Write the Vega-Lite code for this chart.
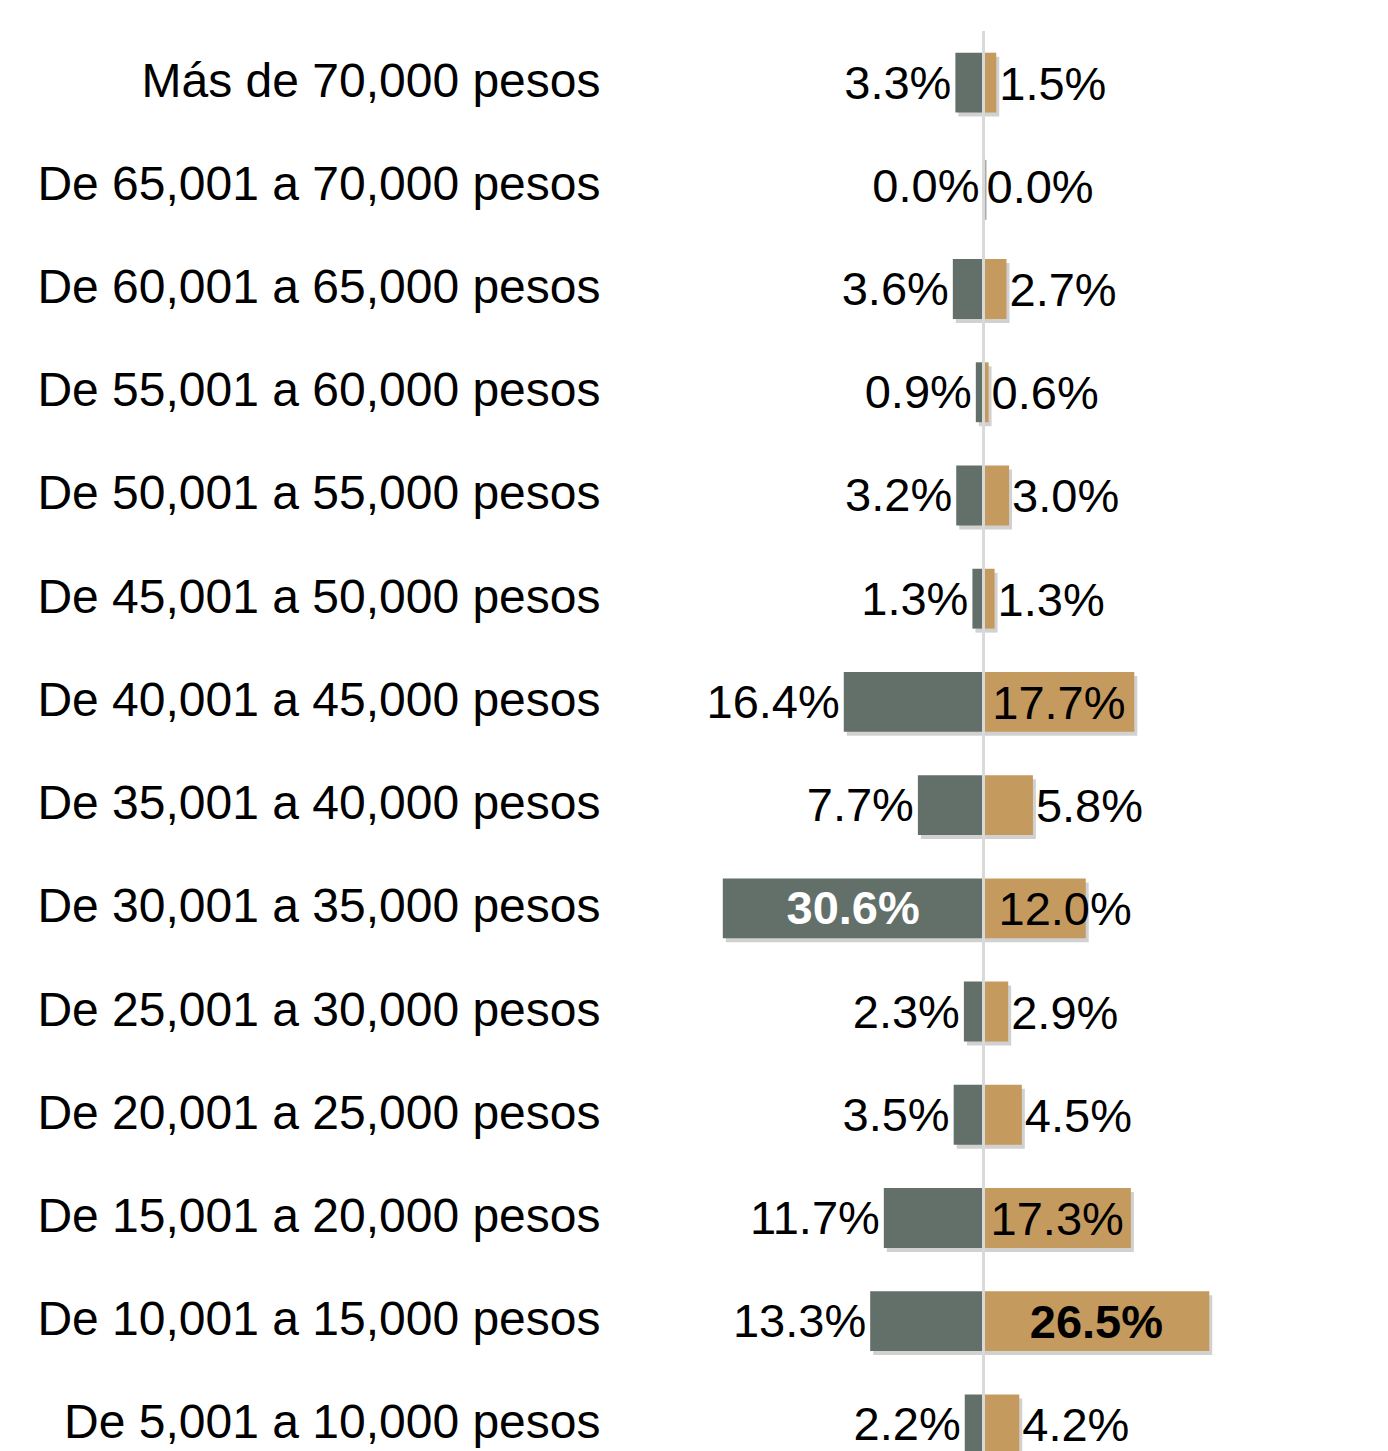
{
  "$schema": "https://vega.github.io/schema/vega-lite/v6.json",
  "autosize": "none",
  "width": 778,
  "height": 1445,
  "padding": {"left": 610, "top": 31, "right": 0, "bottom": 0},
  "background": "white",
  "config": {
    "view": {"stroke": null},
    "font": "Liberation Sans",
    "axisY": {"labelFontSize": 48, "labelColor": "#000000", "labelFont": "Liberation Sans", "ticks": false, "domain": false, "grid": false, "title": null, "labelPadding": 10, "labelLimit": 0}
  },
  "data": {"values": [
    {"cat": "Más de 70,000 pesos", "side": "L", "value": 0.033},
    {"cat": "De 65,001 a 70,000 pesos", "side": "L", "value": 0.0},
    {"cat": "De 60,001 a 65,000 pesos", "side": "L", "value": 0.036},
    {"cat": "De 55,001 a 60,000 pesos", "side": "L", "value": 0.009},
    {"cat": "De 50,001 a 55,000 pesos", "side": "L", "value": 0.032},
    {"cat": "De 45,001 a 50,000 pesos", "side": "L", "value": 0.013},
    {"cat": "De 40,001 a 45,000 pesos", "side": "L", "value": 0.164},
    {"cat": "De 35,001 a 40,000 pesos", "side": "L", "value": 0.077},
    {"cat": "De 30,001 a 35,000 pesos", "side": "L", "value": 0.306},
    {"cat": "De 25,001 a 30,000 pesos", "side": "L", "value": 0.023},
    {"cat": "De 20,001 a 25,000 pesos", "side": "L", "value": 0.035},
    {"cat": "De 15,001 a 20,000 pesos", "side": "L", "value": 0.117},
    {"cat": "De 10,001 a 15,000 pesos", "side": "L", "value": 0.133},
    {"cat": "De 5,001 a 10,000 pesos", "side": "L", "value": 0.022},
    {"cat": "Más de 70,000 pesos", "side": "R", "value": 0.015},
    {"cat": "De 65,001 a 70,000 pesos", "side": "R", "value": 0.0},
    {"cat": "De 60,001 a 65,000 pesos", "side": "R", "value": 0.027},
    {"cat": "De 55,001 a 60,000 pesos", "side": "R", "value": 0.006},
    {"cat": "De 50,001 a 55,000 pesos", "side": "R", "value": 0.03},
    {"cat": "De 45,001 a 50,000 pesos", "side": "R", "value": 0.013},
    {"cat": "De 40,001 a 45,000 pesos", "side": "R", "value": 0.177},
    {"cat": "De 35,001 a 40,000 pesos", "side": "R", "value": 0.058},
    {"cat": "De 30,001 a 35,000 pesos", "side": "R", "value": 0.12},
    {"cat": "De 25,001 a 30,000 pesos", "side": "R", "value": 0.029},
    {"cat": "De 20,001 a 25,000 pesos", "side": "R", "value": 0.045},
    {"cat": "De 15,001 a 20,000 pesos", "side": "R", "value": 0.173},
    {"cat": "De 10,001 a 15,000 pesos", "side": "R", "value": 0.265},
    {"cat": "De 5,001 a 10,000 pesos", "side": "R", "value": 0.042}
  ]},
  "encoding": {
    "y": {"field": "cat", "type": "nominal", "sort": null, "scale": {"paddingInner": 0.42, "paddingOuter": 0.21}}
  },
  "layer": [
    {
      "transform": [{"filter": "datum.side === 'L'"}],
      "mark": {"type": "bar", "color": "#000000", "opacity": 0.18, "xOffset": 3, "yOffset": 4},
      "encoding": {
        "x": {"field": "value", "type": "quantitative", "scale": {"domain": [-0.4748, 0.4384], "reverse": true, "nice": false, "zero": false}, "axis": null},
        "x2": {"datum": 0}
      }
    },
    {
      "transform": [{"filter": "datum.side === 'L'"}],
      "mark": {"type": "bar", "color": "#627069"},
      "encoding": {
        "x": {"field": "value", "type": "quantitative", "scale": {"domain": [-0.4748, 0.4384], "reverse": true, "nice": false, "zero": false}, "axis": null},
        "x2": {"datum": 0}
      }
    },
    {
      "transform": [{"filter": "datum.side === 'R'"}],
      "mark": {"type": "bar", "color": "#000000", "opacity": 0.18, "xOffset": 3, "yOffset": 4},
      "encoding": {
        "x": {"field": "value", "type": "quantitative", "scale": {"domain": [-0.4384, 0.4748], "nice": false, "zero": false}, "axis": null},
        "x2": {"datum": 0}
      }
    },
    {
      "transform": [{"filter": "datum.side === 'R'"}],
      "mark": {"type": "bar", "color": "#C49A5E"},
      "encoding": {
        "x": {"field": "value", "type": "quantitative", "scale": {"domain": [-0.4384, 0.4748], "nice": false, "zero": false}, "axis": null},
        "x2": {"datum": 0}
      }
    },
    {
      "mark": {"type": "rule", "color": "#d9d9d9", "strokeWidth": 2},
      "encoding": {
        "x": {"datum": 0, "type": "quantitative", "scale": {"domain": [-0.4384, 0.4748], "nice": false, "zero": false}, "axis": null},
        "y": null
      }
    },
    {
      "transform": [{"filter": "datum.side === 'L' && datum.value !== 0.306"}],
      "mark": {"type": "text", "align": "right", "baseline": "middle", "dx": -4, "dy": 2, "fontSize": 47, "color": "#000000"},
      "encoding": {
        "x": {"field": "value", "type": "quantitative", "scale": {"domain": [-0.4748, 0.4384], "reverse": true, "nice": false, "zero": false}, "axis": null},
        "text": {"field": "value", "type": "quantitative", "format": ".1%"}
      }
    },
    {
      "transform": [{"filter": "datum.side === 'L' && datum.value === 0.306"}, {"calculate": "datum.value / 2", "as": "mid"}],
      "mark": {"type": "text", "align": "center", "baseline": "middle", "dy": 2, "fontSize": 47, "fontWeight": "bold", "color": "#ffffff"},
      "encoding": {
        "x": {"field": "mid", "type": "quantitative", "scale": {"domain": [-0.4748, 0.4384], "reverse": true, "nice": false, "zero": false}, "axis": null},
        "text": {"field": "value", "type": "quantitative", "format": ".1%"}
      }
    },
    {
      "transform": [{"filter": "datum.side === 'R' && datum.value !== 0.12 && datum.value !== 0.177 && datum.value !== 0.173 && datum.value !== 0.265"}],
      "mark": {"type": "text", "align": "left", "baseline": "middle", "dx": 3, "dy": 3, "fontSize": 47, "color": "#000000"},
      "encoding": {
        "x": {"field": "value", "type": "quantitative", "scale": {"domain": [-0.4384, 0.4748], "nice": false, "zero": false}, "axis": null},
        "text": {"field": "value", "type": "quantitative", "format": ".1%"}
      }
    },
    {
      "transform": [{"filter": "datum.side === 'R' && datum.value === 0.12"}],
      "mark": {"type": "text", "align": "left", "baseline": "middle", "dx": 15, "dy": 3, "fontSize": 47, "color": "#000000"},
      "encoding": {
        "x": {"datum": 0, "type": "quantitative", "scale": {"domain": [-0.4384, 0.4748], "nice": false, "zero": false}, "axis": null},
        "text": {"field": "value", "type": "quantitative", "format": ".1%"}
      }
    },
    {
      "transform": [{"filter": "datum.side === 'R' && (datum.value === 0.177 || datum.value === 0.173)"}, {"calculate": "datum.value / 2", "as": "mid"}],
      "mark": {"type": "text", "align": "center", "baseline": "middle", "dy": 3, "fontSize": 47, "color": "#000000"},
      "encoding": {
        "x": {"field": "mid", "type": "quantitative", "scale": {"domain": [-0.4384, 0.4748], "nice": false, "zero": false}, "axis": null},
        "text": {"field": "value", "type": "quantitative", "format": ".1%"}
      }
    },
    {
      "transform": [{"filter": "datum.side === 'R' && datum.value === 0.265"}, {"calculate": "datum.value / 2", "as": "mid"}],
      "mark": {"type": "text", "align": "center", "baseline": "middle", "dy": 3, "fontSize": 47, "fontWeight": "bold", "color": "#000000"},
      "encoding": {
        "x": {"field": "mid", "type": "quantitative", "scale": {"domain": [-0.4384, 0.4748], "nice": false, "zero": false}, "axis": null},
        "text": {"field": "value", "type": "quantitative", "format": ".1%"}
      }
    }
  ],
  "resolve": {"scale": {"x": "independent"}}
}
